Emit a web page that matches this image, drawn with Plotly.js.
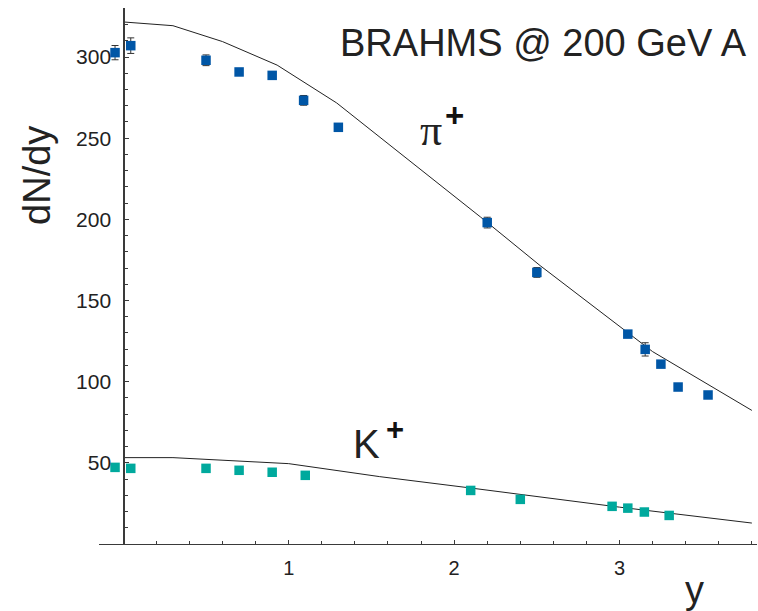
<!DOCTYPE html>
<html>
<head>
<meta charset="utf-8">
<script src="https://cdn.plot.ly/plotly-3.0.1.min.js"></script>
<style>html,body{margin:0;padding:0;background:#fff;}#chart{width:758px;height:611px;}</style>
</head>
<body>
<div id="chart"></div>
<script>
// pi+ data
const piY = [-0.05, 0.045, 0.50, 0.70, 0.90, 1.09, 1.30, 2.20, 2.50, 3.05, 3.155, 3.25, 3.354, 3.535];
const piN = [302.7, 307.0, 298.0, 290.8, 288.7, 273.3, 256.7, 198.0, 167.3, 129.3, 119.9, 110.8, 96.7, 91.8];
const piErr = [4.4, 4.8, 3.3, 2.0, 2.0, 3.0, 1.5, 3.3, 3.0, 2.0, 4.1, 1.5, 1.5, 1.5];
// K+ data
const kY = [-0.05, 0.045, 0.50, 0.70, 0.90, 1.10, 2.10, 2.40, 2.955, 3.05, 3.15, 3.30];
const kN = [47.2, 46.6, 46.6, 45.4, 44.2, 42.3, 33.0, 27.5, 23.2, 22.1, 19.7, 17.6];
// model curves
const piCurveY = [0, 0.30, 0.60, 0.93, 1.29, 1.75, 2.16, 2.52, 3.08, 3.20, 3.80];
const piCurveN = [321.6, 319.3, 309.5, 295.0, 271.7, 234.3, 201.4, 171.5, 127.5, 118.5, 82.3];
const kCurveY = [0, 0.30, 1.00, 1.55, 2.10, 3.00, 3.80];
const kCurveN = [53.2, 53.2, 49.5, 41.5, 34.5, 22.7, 12.9];
// tick labels
const xTicks = [1, 2, 3];
const xTickText = ['1', '2', '3'];
const yTicks = [50, 100, 150, 200, 250, 300];
const yTickText = ['50', '100', '150', '200', '250', '300'];

const piColor = '#0056a6';
const kColor = '#00a99d';
const axisColor = '#3a3a3a';
const font = 'Liberation Sans, Arial, sans-serif';

const traces = [
  {x: piCurveY, y: piCurveN, mode: 'lines', line: {color: '#222', width: 1}, hoverinfo: 'skip', showlegend: false},
  {x: kCurveY, y: kCurveN, mode: 'lines', line: {color: '#222', width: 1}, hoverinfo: 'skip', showlegend: false},
  {x: piY, y: piN, mode: 'markers', marker: {symbol: 'square', size: 9.5, color: piColor},
   error_y: {type: 'data', array: piErr, visible: true, color: '#333', thickness: 1, width: 3.5}, showlegend: false},
  {x: kY, y: kN, mode: 'markers', marker: {symbol: 'square', size: 9.5, color: kColor}, showlegend: false}
];

const layout = {
  width: 758, height: 611,
  margin: {l: 99, r: 1, t: 8, b: 67},
  paper_bgcolor: '#fff', plot_bgcolor: '#fff',
  showlegend: false,
  font: {family: font, color: '#222'},
  xaxis: {
    range: [-0.147, 3.831],
    showgrid: false, zeroline: false,
    showline: true, linecolor: axisColor, linewidth: 1.3,
    tickmode: 'array', tickvals: xTicks, ticktext: xTickText,
    ticks: 'inside', ticklen: 4, tickcolor: axisColor, tickwidth: 1,
    minor: {tickmode: 'linear', tick0: 0, dtick: 0.2, ticks: 'inside', ticklen: 3, tickcolor: axisColor, tickwidth: 1},
    tickfont: {family: font, size: 20, color: '#222'},
    ticklabelstandoff: 6
  },
  yaxis: {
    range: [0, 330.2],
    anchor: 'free', position: 0.037,
    showgrid: false, zeroline: false,
    showline: true, linecolor: axisColor, linewidth: 1.3,
    tickmode: 'array', tickvals: yTicks, ticktext: yTickText,
    ticks: 'inside', ticklen: 4, tickcolor: axisColor, tickwidth: 1,
    minor: {tickmode: 'linear', tick0: 0, dtick: 10, ticks: 'inside', ticklen: 3, tickcolor: axisColor, tickwidth: 1},
    tickfont: {family: font, size: 21, color: '#222'},
    ticklabelstandoff: 8
  },
  annotations: [
    {xref: 'x', yref: 'y', x: 2.538, y: 308.5, text: 'BRAHMS @ 200 GeV A', showarrow: false,
     xanchor: 'center', yanchor: 'middle', font: {family: font, size: 38, color: '#222'}},
    {xref: 'paper', yref: 'paper', x: -0.094, y: 0.687, text: 'dN/dy', textangle: -90, showarrow: false,
     xanchor: 'center', yanchor: 'middle', font: {family: font, size: 38, color: '#222'}},
    {xref: 'x', yref: 'paper', x: 3.456, y: -0.0865, text: 'y', showarrow: false,
     xanchor: 'center', yanchor: 'middle', font: {family: font, size: 38, color: '#222'}},
    {xref: 'x', yref: 'y', x: 1.860, y: 255, text: 'π', showarrow: false,
     xanchor: 'center', yanchor: 'middle', font: {family: 'Liberation Serif, Times New Roman, serif', size: 44, color: '#222'}},
    {xref: 'x', yref: 'y', x: 2.000, y: 264, text: '<b>+</b>', showarrow: false,
     xanchor: 'center', yanchor: 'middle', font: {family: font, size: 33, color: '#111'}},
    {xref: 'x', yref: 'y', x: 1.468, y: 61.5, text: 'K', showarrow: false,
     xanchor: 'center', yanchor: 'middle', font: {family: font, size: 40, color: '#222'}},
    {xref: 'x', yref: 'y', x: 1.640, y: 70.5, text: '<b>+</b>', showarrow: false,
     xanchor: 'center', yanchor: 'middle', font: {family: font, size: 31, color: '#111'}}
  ]
};

Plotly.newPlot('chart', traces, layout, {displayModeBar: false, staticPlot: true});
</script>
</body>
</html>
